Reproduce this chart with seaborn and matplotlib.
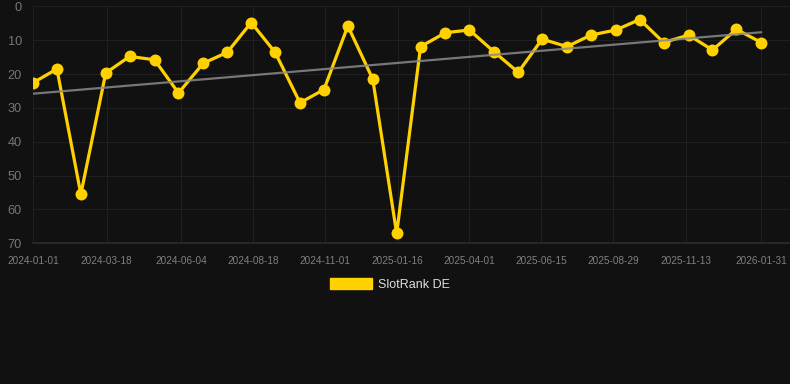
import numpy as np
import pandas as pd
import matplotlib.pyplot as plt
import matplotlib.dates as mdates
from matplotlib.patches import Patch
import seaborn as sns

sns.set_theme(style="dark")
plt.rcParams["font.family"] = ["Liberation Sans", "DejaVu Sans"]

BG = "#111111"
YELLOW = "#FFD100"

# fechas de cada punto y posición en el ranking
dates = [
    "2024-01-01", "2024-01-26", "2024-02-20", "2024-03-17", "2024-04-11",
    "2024-05-07", "2024-06-01", "2024-06-27", "2024-07-22", "2024-08-16",
    "2024-09-10", "2024-10-06", "2024-10-31", "2024-11-25", "2024-12-21",
    "2025-01-15", "2025-02-09", "2025-03-07", "2025-04-01", "2025-04-27",
    "2025-05-22", "2025-06-16", "2025-07-12", "2025-08-06", "2025-09-01",
    "2025-09-26", "2025-10-21", "2025-11-16", "2025-12-11", "2026-01-05",
    "2026-01-31",
]
ranks = [
    22.6, 18.5, 55.5, 19.7, 14.8, 15.8, 25.6, 16.8, 13.6, 4.8,
    13.6, 28.5, 24.6, 5.8, 21.5, 67.1, 11.9, 7.8, 7.0, 13.5,
    19.5, 9.7, 11.9, 8.5, 7.0, 3.9, 10.7, 8.5, 12.9, 6.8,
    10.7,
]
tick_labels = [
    "2024-01-01", "2024-03-18", "2024-06-04", "2024-08-18", "2024-11-01",
    "2025-01-16", "2025-04-01", "2025-06-15", "2025-08-29", "2025-11-13",
    "2026-01-31",
]
y_ticks = [0, 10, 20, 30, 40, 50, 60, 70]

df = pd.DataFrame({"date": pd.to_datetime(dates), "rank": ranks})

# línea de tendencia (regresión lineal)
xnum = mdates.date2num(df["date"])
coef = np.polyfit(xnum, df["rank"], 1)
df["trend"] = np.polyval(coef, xnum)

fig = plt.figure(figsize=(7.9, 3.84), dpi=100, facecolor=BG)
ax = fig.add_axes([33 / 790, 1 - 243.3 / 384, 1 - 33 / 790, (243.3 - 6.3) / 384])
ax.set_facecolor(BG)

sns.lineplot(data=df, x="date", y="rank", ax=ax, color=YELLOW, linewidth=2.3,
             marker="o", markersize=8.6, markeredgewidth=0, zorder=3)
sns.lineplot(data=df, x="date", y="trend", ax=ax, color="#8a8a8a", linewidth=1.6,
             alpha=0.85, zorder=4)

ax.set_ylim(70, 0)
ax.set_yticks(y_ticks)
ax.set_xlim(pd.Timestamp("2024-01-01"), pd.Timestamp("2026-03-02"))
ax.set_xticks(pd.to_datetime(tick_labels))
ax.set_xticklabels(tick_labels)

ax.grid(True, color="#1f1f1f", linewidth=0.8)
for s in ["top", "right", "left"]:
    ax.spines[s].set_visible(False)
ax.spines["bottom"].set_color("#2c2c2c")
ax.tick_params(axis="x", colors="#808080", labelsize=7.2, length=6, width=0.8,
               pad=3, direction="out")
ax.tick_params(axis="x", color="#1f1f1f")
ax.tick_params(axis="y", colors="#777777", labelsize=9.2, length=0, pad=8)
ax.set_xlabel("")
ax.set_ylabel("")

handle = Patch(facecolor=YELLOW, edgecolor=YELLOW, label="SlotRank DE")
leg = fig.legend(handles=[handle], loc="center", bbox_to_anchor=(390 / 790, 1 - 284.5 / 384),
                 frameon=False, fontsize=9, handlelength=3.3, handleheight=0.9,
                 handletextpad=0.5, labelcolor="#dddddd")

fig.savefig("out.png", dpi=100, facecolor=BG)
